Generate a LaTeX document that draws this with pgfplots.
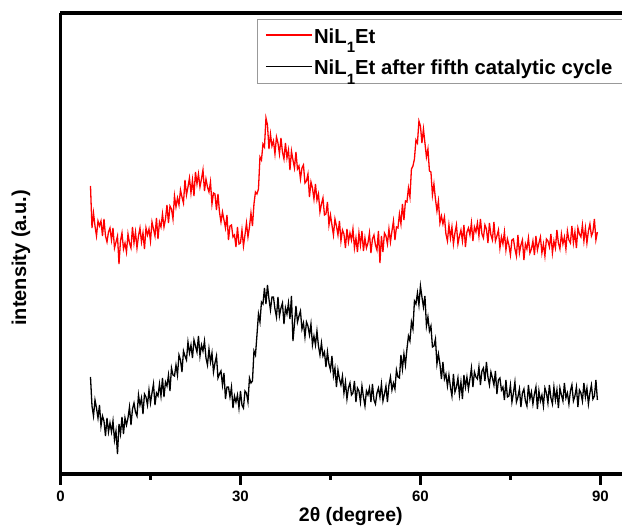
\documentclass[border=0pt]{standalone}
\usepackage{fontspec}
\setmainfont{Liberation Sans}
\usepackage{pgfplots}
\pgfplotsset{compat=1.18}
\newcommand{\sub}{\smash{\raisebox{-9.5pt}{\fontsize{15}{15}\selectfont 1}}}
\begin{document}
\begin{tikzpicture}
\begin{axis}[
  at={(0,0)}, anchor=south west,
  scale only axis,
  width=561.5pt, height=461pt,
  xmin=0, xmax=93.6, ymin=2, ymax=463,
  axis x line=box, axis y line=left,
  axis line style={line width=3.5pt, -},
  xtick={0,30,60,90}, minor xtick={15,45,75},
  ytick=\empty,
  xtick pos=left,
  tick align=outside,
  major tick length=11pt, minor tick length=6pt,
  every tick/.style={black, line width=3pt},
  /pgf/number format/assume math mode=true,
  xticklabel style={font=\bfseries\fontsize{15}{15}\selectfont, yshift=-2pt},
  xlabel={2θ (degree)},
  ylabel={intensity (a.u.)},
  xlabel style={font=\bfseries\fontsize{19.5}{20}\selectfont, at={(axis description cs:0.517,-0.093)}, anchor=center},
  ylabel style={font=\bfseries\fontsize{20}{20}\selectfont, at={(axis description cs:-0.0703,0.469)}, anchor=center},
  legend style={at={(rel axis cs:0.35,0.987)}, anchor=north west, draw=gray!80, line width=0.7pt,
    font=\bfseries\fontsize{20.3}{22}\selectfont, inner xsep=8pt, inner ysep=4pt, row sep=7pt,
    nodes={inner sep=1.5pt, text height=18.5pt, text depth=3pt},
    legend cell align=left},
]
\addplot[draw=red, line width=1.3pt,
  legend image code/.code={\draw[draw=red, line width=1.2pt] (0pt,0.5pt) -- (46pt,0.5pt);}] coordinates {
(5.00,290)(5.25,248)(5.50,263)(5.75,250)(6.00,240)(6.25,255)(6.50,250)(6.75,255)(7.00,240)(7.25,257)
(7.50,240)(7.75,234)(8.00,244)(8.25,248)(8.50,236)(8.75,248)(9.00,228)(9.25,234)(9.50,240)(9.75,212)
(10.00,235)(10.25,243)(10.50,227)(10.75,233)(11.00,224)(11.25,242)(11.50,233)(11.75,228)(12.00,249)(12.25,233)
(12.50,244)(12.75,228)(13.00,240)(13.25,248)(13.50,234)(13.75,243)(14.00,227)(14.25,248)(14.50,241)(14.75,247)
(15.00,235)(15.25,254)(15.50,247)(15.75,240)(16.00,258)(16.25,237)(16.50,254)(16.75,249)(17.00,262)(17.25,249)
(17.50,257)(17.75,271)(18.00,253)(18.25,270)(18.50,267)(18.75,257)(19.00,280)(19.25,269)(19.50,278)(19.75,271)
(20.00,286)(20.25,279)(20.50,273)(20.75,296)(21.00,281)(21.25,289)(21.50,298)(21.75,283)(22.00,296)(22.25,280)
(22.50,304)(22.75,292)(23.00,302)(23.25,289)(23.50,297)(23.75,306)(24.00,285)(24.25,297)(24.50,289)(24.75,284)
(25.00,294)(25.25,272)(25.50,283)(25.75,282)(26.00,266)(26.25,282)(26.50,264)(26.75,254)(27.00,264)(27.25,256)
(27.50,248)(27.75,261)(28.00,236)(28.25,250)(28.50,251)(28.75,239)(29.00,241)(29.25,229)(29.50,249)(29.75,232)
(30.00,233)(30.25,246)(30.50,230)(30.75,241)(31.00,253)(31.25,239)(31.50,249)(31.75,263)(32.00,250)(32.25,272)
(32.50,284)(32.75,282)(33.00,287)(33.25,319)(33.50,316)(33.75,332)(34.00,329)(34.25,358)(34.50,351)(34.75,327)
(35.00,342)(35.25,330)(35.50,335)(35.75,322)(36.00,339)(36.25,333)(36.50,322)(36.75,338)(37.00,324)(37.25,317)
(37.50,333)(37.75,318)(38.00,326)(38.25,306)(38.50,325)(38.75,316)(39.00,308)(39.25,324)(39.50,307)(39.75,310)
(40.00,297)(40.25,308)(40.50,311)(40.75,293)(41.00,295)(41.25,302)(41.50,279)(41.75,294)(42.00,288)(42.25,277)
(42.50,292)(42.75,276)(43.00,282)(43.25,264)(43.50,272)(43.75,278)(44.00,261)(44.25,262)(44.50,274)(44.75,251)
(45.00,261)(45.25,251)(45.50,241)(45.75,257)(46.00,250)(46.25,241)(46.50,255)(46.75,235)(47.00,246)(47.25,242)
(47.50,228)(47.75,247)(48.00,234)(48.25,243)(48.50,236)(48.75,247)(49.00,228)(49.25,238)(49.50,224)(49.75,243)
(50.00,231)(50.25,245)(50.50,225)(50.75,238)(51.00,228)(51.25,233)(51.50,243)(51.75,223)(52.00,237)(52.25,241)
(52.50,231)(52.75,226)(53.00,245)(53.25,213)(53.50,240)(53.75,224)(54.00,243)(54.25,240)(54.50,232)(54.75,247)
(55.00,234)(55.25,245)(55.50,255)(55.75,236)(56.00,249)(56.25,248)(56.50,262)(56.75,252)(57.00,272)(57.25,256)
(57.50,275)(57.75,274)(58.00,288)(58.25,279)(58.50,307)(58.75,310)(59.00,317)(59.25,336)(59.50,333)(59.75,355)
(60.00,350)(60.25,333)(60.50,347)(60.75,333)(61.00,319)(61.25,327)(61.50,305)(61.75,304)(62.00,281)(62.25,292)
(62.50,277)(62.75,265)(63.00,275)(63.25,253)(63.50,260)(63.75,252)(64.00,259)(64.25,242)(64.50,235)(64.75,251)
(65.00,238)(65.25,249)(65.50,232)(65.75,243)(66.00,251)(66.25,232)(66.50,240)(66.75,246)(67.00,235)(67.25,251)
(67.50,229)(67.75,244)(68.00,248)(68.25,241)(68.50,253)(68.75,235)(69.00,249)(69.25,244)(69.50,253)(69.75,240)
(70.00,257)(70.25,242)(70.50,238)(70.75,251)(71.00,247)(71.25,233)(71.50,253)(71.75,241)(72.00,236)(72.25,254)
(72.50,235)(72.75,240)(73.00,246)(73.25,228)(73.50,239)(73.75,232)(74.00,244)(74.25,226)(74.50,237)(74.75,231)
(75.00,221)(75.25,236)(75.50,237)(75.75,227)(76.00,220)(76.25,241)(76.50,223)(76.75,231)(77.00,236)(77.25,216)
(77.50,232)(77.75,227)(78.00,238)(78.25,223)(78.50,227)(78.75,235)(79.00,221)(79.25,240)(79.50,226)(79.75,233)
(80.00,239)(80.25,223)(80.50,232)(80.75,220)(81.00,237)(81.25,235)(81.50,229)(81.75,242)(82.00,223)(82.25,235)
(82.50,228)(82.75,246)(83.00,233)(83.25,227)(83.50,242)(83.75,232)(84.00,239)(84.25,227)(84.50,245)(84.75,236)
(85.00,233)(85.25,250)(85.50,233)(85.75,244)(86.00,228)(86.25,248)(86.50,242)(86.75,239)(87.00,251)(87.25,235)
(87.50,248)(87.75,233)(88.00,245)(88.25,252)(88.50,240)(88.75,244)(89.00,257)(89.25,236)(89.50,244)
};
\addlegendentry{NiL\sub Et}
\addplot[draw=black, line width=1.3pt,
  legend image code/.code={\draw[draw=black, line width=1.2pt] (0pt,0.5pt) -- (46pt,0.5pt);}] coordinates {
(5.00,99)(5.25,70)(5.50,60)(5.75,76)(6.00,68)(6.25,58)(6.50,71)(6.75,50)(7.00,60)(7.25,55)
(7.50,40)(7.75,58)(8.00,44)(8.25,53)(8.50,44)(8.75,55)(9.00,36)(9.25,45)(9.50,22)(9.75,52)
(10.00,42)(10.25,59)(10.50,42)(10.75,58)(11.00,51)(11.25,58)(11.50,69)(11.75,51)(12.00,67)(12.25,73)
(12.50,64)(12.75,60)(13.00,81)(13.25,71)(13.50,78)(13.75,62)(14.00,82)(14.25,79)(14.50,71)(14.75,86)
(15.00,73)(15.25,83)(15.50,92)(15.75,71)(16.00,83)(16.25,80)(16.50,92)(16.75,80)(17.00,98)(17.25,79)
(17.50,94)(17.75,90)(18.00,101)(18.25,85)(18.50,108)(18.75,101)(19.00,100)(19.25,111)(19.50,101)(19.75,121)
(20.00,116)(20.25,104)(20.50,125)(20.75,120)(21.00,116)(21.25,134)(21.50,123)(21.75,131)(22.00,118)(22.25,136)
(22.50,130)(22.75,124)(23.00,140)(23.25,120)(23.50,131)(23.75,125)(24.00,135)(24.25,118)(24.50,111)(24.75,127)
(25.00,114)(25.25,123)(25.50,104)(25.75,113)(26.00,120)(26.25,98)(26.50,102)(26.75,105)(27.00,91)(27.25,103)
(27.50,77)(27.75,89)(28.00,89)(28.25,79)(28.50,89)(28.75,68)(29.00,80)(29.25,74)(29.50,81)(29.75,68)
(30.00,85)(30.25,71)(30.50,68)(30.75,85)(31.00,83)(31.25,74)(31.50,98)(31.75,93)(32.00,95)(32.25,125)
(32.50,121)(32.75,141)(33.00,162)(33.25,154)(33.50,174)(33.75,172)(34.00,188)(34.25,172)(34.50,191)(34.75,177)
(35.00,166)(35.25,179)(35.50,179)(35.75,167)(36.00,159)(36.25,179)(36.50,160)(36.75,168)(37.00,173)(37.25,152)
(37.50,168)(37.75,162)(38.00,173)(38.25,157)(38.50,180)(38.75,135)(39.00,152)(39.25,170)(39.50,154)(39.75,160)
(40.00,165)(40.25,147)(40.50,153)(40.75,139)(41.00,154)(41.25,150)(41.50,141)(41.75,152)(42.00,131)(42.25,140)
(42.50,131)(42.75,145)(43.00,130)(43.25,121)(43.50,133)(43.75,120)(44.00,124)(44.25,109)(44.50,124)(44.75,112)
(45.00,106)(45.25,120)(45.50,100)(45.75,108)(46.00,89)(46.25,106)(46.50,97)(46.75,91)(47.00,100)(47.25,83)
(47.50,94)(47.75,77)(48.00,88)(48.25,93)(48.50,81)(48.75,83)(49.00,95)(49.25,74)(49.50,88)(49.75,85)
(50.00,74)(50.25,90)(50.50,79)(50.75,70)(51.00,85)(51.25,81)(51.50,88)(51.75,74)(52.00,92)(52.25,76)
(52.50,72)(52.75,83)(53.00,88)(53.25,79)(53.50,92)(53.75,75)(54.00,82)(54.25,90)(54.50,74)(54.75,91)
(55.00,99)(55.25,86)(55.50,93)(55.75,87)(56.00,106)(56.25,99)(56.50,98)(56.75,121)(57.00,107)(57.25,122)
(57.50,111)(57.75,127)(58.00,140)(58.25,135)(58.50,154)(58.75,147)(59.00,175)(59.25,172)(59.50,183)(59.75,171)
(60.00,190)(60.25,179)(60.50,169)(60.75,180)(61.00,150)(61.25,159)(61.50,145)(61.75,150)(62.00,129)(62.25,130)
(62.50,137)(62.75,112)(63.00,122)(63.25,112)(63.50,97)(63.75,114)(64.00,97)(64.25,102)(64.50,90)(64.75,101)
(65.00,89)(65.25,80)(65.50,102)(65.75,84)(66.00,89)(66.25,98)(66.50,81)(66.75,94)(67.00,77)(67.25,101)
(67.50,89)(67.75,99)(68.00,87)(68.25,97)(68.50,108)(68.75,89)(69.00,104)(69.25,99)(69.50,97)(69.75,109)
(70.00,91)(70.25,105)(70.50,108)(70.75,95)(71.00,114)(71.25,99)(71.50,91)(71.75,104)(72.00,98)(72.25,91)
(72.50,105)(72.75,82)(73.00,96)(73.25,98)(73.50,86)(73.75,89)(74.00,76)(74.25,96)(74.50,79)(74.75,80)
(75.00,91)(75.25,74)(75.50,83)(75.75,94)(76.00,74)(76.25,79)(76.50,87)(76.75,69)(77.00,83)(77.25,87)
(77.50,75)(77.75,70)(78.00,91)(78.25,77)(78.50,84)(78.75,72)(79.00,82)(79.25,89)(79.50,67)(79.75,85)
(80.00,75)(80.25,81)(80.50,70)(80.75,88)(81.00,83)(81.25,73)(81.50,91)(81.75,78)(82.00,72)(82.25,89)
(82.50,76)(82.75,86)(83.00,68)(83.25,88)(83.50,81)(83.75,75)(84.00,93)(84.25,78)(84.50,83)(84.75,72)
(85.00,85)(85.25,91)(85.50,75)(85.75,80)(86.00,89)(86.25,69)(86.50,86)(86.75,83)(87.00,75)(87.25,93)
(87.50,79)(87.75,88)(88.00,72)(88.25,83)(88.50,91)(88.75,77)(89.00,80)(89.25,96)(89.50,76)
};
\addlegendentry{NiL\sub Et after fifth catalytic cycle}
\end{axis}
\pgfresetboundingbox
\path[use as bounding box] (-60.5pt,-55pt) rectangle (561.5pt,474pt);
\end{tikzpicture}
\end{document}
